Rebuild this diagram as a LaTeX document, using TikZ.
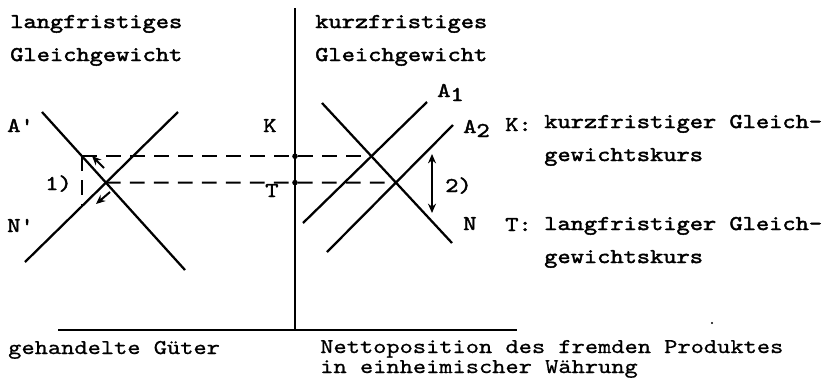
\documentclass[tikz,border=0pt]{standalone}
\usepackage{fontspec}
\usetikzlibrary{intersections,arrows.meta}
\newfontfamily\twb[FakeStretch=1.2,FakeBold=2]{lmmono10-regular.otf}
\newfontfamily\twl[FakeStretch=1.2,FakeBold=0.8]{lmmono10-regular.otf}
\begin{document}
\begin{tikzpicture}[x=0.75pt,y=-0.75pt,
  curve/.style={line width=1.7pt},
  axisline/.style={line width=1.7pt},
  guide/.style={line width=1.5pt, dash pattern=on 11pt off 7pt},
  lbl/.style={font=\twb\fontsize{15.75}{18}\selectfont, inner sep=0pt, anchor=base west},
  btxt/.style={font=\twl\fontsize{15.75}{18}\selectfont, inner sep=0pt, anchor=base west},
  tip/.style={-{Stealth[length=7pt,width=6pt]}, line width=1.5pt},
  dtip/.style={{Stealth[length=7pt,width=6pt]}-{Stealth[length=7pt,width=6pt]}, line width=1.5pt},
  axmark/.style={fill=black}]
\useasboundingbox (0,0) rectangle (828,380);

% axes
\coordinate (AxTop) at (295,8);
\coordinate (AxBot) at (295,330);
\coordinate (HL) at (58,330);
\coordinate (HR) at (517,330);
\draw[axisline] (AxTop) -- (AxBot);
\draw[axisline] (HL) -- (HR);

% curves
\coordinate (ApS) at (42,112);  \coordinate (ApE) at (185,270);
\coordinate (NpS) at (25,262);  \coordinate (NpE) at (178,112);
\coordinate (NrS) at (322,103); \coordinate (NrE) at (452,243);
\coordinate (AaS) at (303,223); \coordinate (AaE) at (427,102);
\coordinate (AbS) at (327,252); \coordinate (AbE) at (453,125);
\draw[curve, name path=Ap] (ApS) -- (ApE);
\draw[curve, name path=Np] (NpS) -- (NpE);
\draw[curve, name path=Nr] (NrS) -- (NrE);
\draw[curve, name path=Aa] (AaS) -- (AaE);
\draw[curve, name path=Ab] (AbS) -- (AbE);

\path[name intersections={of=Ap and Np, by=L}];
\path[name intersections={of=Nr and Aa, by=RK}];
\path[name intersections={of=Nr and Ab, by=RT}];
\path[name path=hK] (RK) -- +(-400,0);
\path[name intersections={of=hK and Ap, by=KL}];
\path[name path=vK] (KL) -- +(0,120);
\path[name intersections={of=vK and Np, by=KB}];
\coordinate (KAx) at (AxTop |- RK);
\coordinate (TAx) at (AxTop |- RT);

% dashed guides
\draw[guide] (KL) -- (RK);
\draw[guide] (L) -- (RT);
\draw[guide] (KL) -- (KB);
\fill[axmark] (KAx) circle (2.8);
\fill[axmark] (TAx) circle (2.8);

% small arrows
\coordinate (a1s) at (104,168); \coordinate (a1e) at (92,156);
\coordinate (a2s) at (110,192); \coordinate (a2e) at (96,204);
\draw[tip] (a1s) -- (a1e);
\draw[tip] (a2s) -- (a2e);
\coordinate (dt) at (432,154); \coordinate (db) at (432,213);
\draw[dtip] (dt) -- (db);

% speck
\fill (712,323) circle (1.1);

% labels
\node[lbl] (t1) at (10,28) {langfristiges};
\node[lbl] (t2) at (10,61) {Gleichgewicht};
\node[lbl] (t3) at (315,28) {kurzfristiges};
\node[lbl] (t4) at (315,61) {Gleichgewicht};
\node[lbl] (lA) at (7,132) {A'};
\node[lbl] (lN) at (7,232) {N'};
\node[lbl] (lK) at (263,132) {K};
\node[lbl, fill=white] (lT) at (265,197) {T};
\node[lbl] (l1) at (45,190) {1)};
\node[lbl] (lA1) at (437,97) {A\raisebox{-3pt}{1}};
\node[lbl] (lA2) at (463,133) {A\raisebox{-3pt}{2}};
\node[lbl] (lNr) at (463,230) {N};
\node[lbl] (l2) at (445,192) {2)};
\node[lbl] (kK) at (505,131) {K:};
\node[lbl] (kK1) at (544,128) {kurzfristiger Gleich-};
\node[lbl] (kK2) at (544,161) {gewichtskurs};
\node[lbl] (kT) at (505,231) {T:};
\node[lbl] (kT1) at (544,230) {langfristiger Gleich-};
\node[lbl] (kT2) at (544,263) {gewichtskurs};
\node[btxt] (b1) at (8,354) {gehandelte Güter};
\node[btxt] (b2) at (320,353) {Nettoposition des fremden Produktes};
\node[btxt] (b3) at (320,373) {in einheimischer Währung};
\end{tikzpicture}
\end{document}
